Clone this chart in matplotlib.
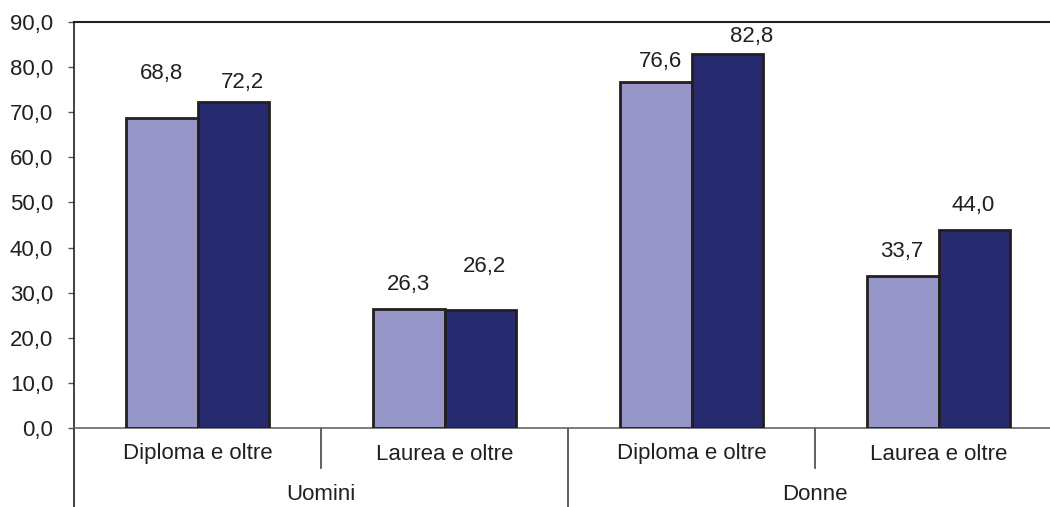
import matplotlib
matplotlib.use("Agg")
import matplotlib.pyplot as plt
import matplotlib.transforms as mtransforms
import numpy as np

# data
categories = ["Diploma e oltre", "Laurea e oltre", "Diploma e oltre", "Laurea e oltre"]
groups = ["Uomini", "Donne"]
series_light = [68.8, 26.3, 76.6, 33.7]
series_dark = [72.2, 26.2, 82.8, 44.0]
yticks = [0, 10, 20, 30, 40, 50, 60, 70, 80, 90]

# label placement (pixel offsets from bar top, as in the original layout)
light_offsets = [(0, 44), (0, 25), (5, 21), (-1, 24)]
dark_offsets = [(9, 20), (4, 43), (25, 18), (-1, 24)]

plt.rcParams['font.family'] = ['Liberation Sans', 'DejaVu Sans']
txt_col = '#231F20'
light_col = '#9696C8'
dark_col = '#282A70'
edge_col = '#231F20'
fs = 16

fig = plt.figure(figsize=(10.5, 5.07), dpi=100)
ax = fig.add_axes([74/1050, 1-428/507, (1050-74)/1050, (428-22)/507])

x = np.arange(len(categories)) + 0.5
w = 0.288
b1 = ax.bar(x - w/2, series_light, w, color=light_col, edgecolor=edge_col, linewidth=2, zorder=3)
b2 = ax.bar(x + w/2, series_dark, w, color=dark_col, edgecolor=edge_col, linewidth=2, zorder=3)

for bars, vals, offs in [(b1, series_light, light_offsets), (b2, series_dark, dark_offsets)]:
    for rect, v, (dx, dy) in zip(bars, vals, offs):
        ax.annotate(f"{v:.1f}".replace('.', ','),
                    (rect.get_x() + rect.get_width()/2, rect.get_height()),
                    xytext=(dx*0.72, dy*0.72), textcoords='offset points',
                    ha='center', va='center', fontsize=fs, color=txt_col)

ax.set_xlim(0, 976/247)
ax.set_ylim(0, 90)
ax.set_yticks(yticks)
ax.set_yticklabels([f"{t:.1f}".replace('.', ',') for t in yticks])
ax.tick_params(axis='y', length=4.5, width=1, color='#555555', pad=10.5,
               labelsize=fs, labelcolor=txt_col)
ax.set_xticks([])

ax.spines['right'].set_visible(False)
ax.spines['top'].set_color(txt_col)
ax.spines['top'].set_linewidth(1.5)
ax.spines['left'].set_color(txt_col)
ax.spines['left'].set_linewidth(1.2)
ax.spines['bottom'].set_color('#666666')
ax.spines['bottom'].set_linewidth(1.2)

# category axis: separators and labels below the plot
trans = mtransforms.blended_transform_factory(ax.transData, fig.transFigure)
yb = 1 - 428/507
ax.plot([0, 0], [yb, 0], transform=trans, color=txt_col, lw=1.2, clip_on=False)
ax.plot([2, 2], [yb, 0], transform=trans, color='#444444', lw=1.2, clip_on=False)
for s in [1, 3]:
    ax.plot([s, s], [yb, 1 - 468/507], transform=trans, color='#444444', lw=1.2, clip_on=False)
for xi, c in zip(x, categories):
    ax.text(xi, 1 - 454/507, c, transform=trans, ha='center', va='center',
            fontsize=fs, color=txt_col)
for gi, g in enumerate(groups):
    ax.text(2*gi + 1, 1 - 495/507, g, transform=trans, ha='center', va='center',
            fontsize=fs, color=txt_col)

fig.savefig("out.png", dpi=100)
